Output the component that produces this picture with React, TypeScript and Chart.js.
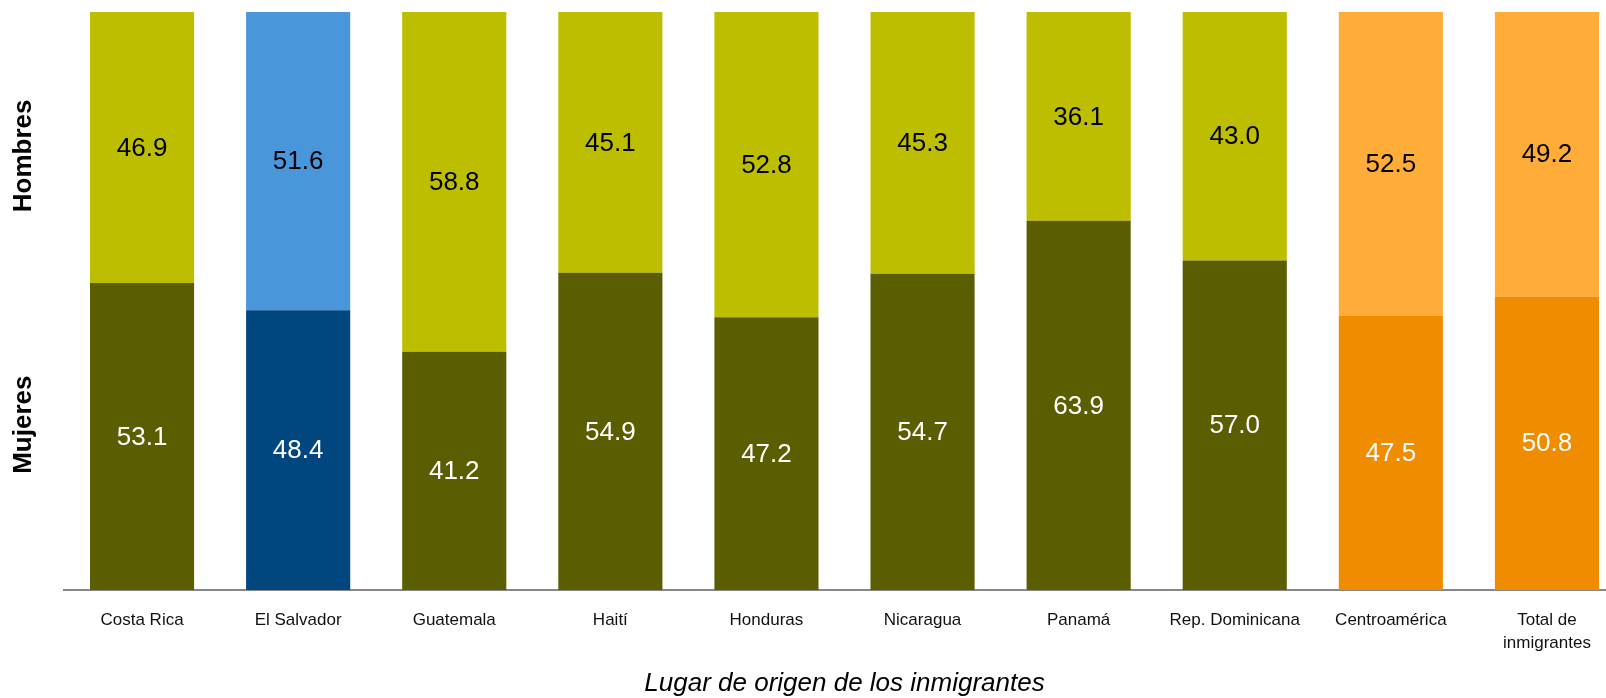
import React, { useEffect, useRef } from "react";
import { Chart, registerables } from "chart.js";

Chart.register(...registerables);

const categories: (string | string[])[] = [
  "Costa Rica",
  "El Salvador",
  "Guatemala",
  "Haití",
  "Honduras",
  "Nicaragua",
  "Panamá",
  "Rep. Dominicana",
  "Centroamérica",
  ["Total de", "inmigrantes"],
];

const mujeres = [53.1, 48.4, 41.2, 54.9, 47.2, 54.7, 63.9, 57.0, 47.5, 50.8];
const hombres = [46.9, 51.6, 58.8, 45.1, 52.8, 45.3, 36.1, 43.0, 52.5, 49.2];

const mujeresColors = [
  "#5b5e00", "#00467f", "#5b5e00", "#5b5e00", "#5b5e00",
  "#5b5e00", "#5b5e00", "#5b5e00", "#f08c00", "#f08c00",
];
const hombresColors = [
  "#bebe00", "#4a96db", "#bebe00", "#bebe00", "#bebe00",
  "#bebe00", "#bebe00", "#bebe00", "#ffac38", "#ffac38",
];

const sideLabels = ["Mujeres", "Hombres"];
const sideLabelValues = [28.6, 75.1];

const dataLabelPlugin = {
  id: "dataLabels",
  afterDatasetsDraw(chart: any) {
    const ctx = chart.ctx;
    ctx.save();
    ctx.font = "26px 'Liberation Sans', Arial, sans-serif";
    ctx.textAlign = "center";
    ctx.textBaseline = "middle";
    chart.data.datasets.forEach((ds: any, di: number) => {
      const meta = chart.getDatasetMeta(di);
      meta.data.forEach((bar: any, i: number) => {
        const v = ds.data[i];
        const y = (bar.y + bar.base) / 2;
        ctx.fillStyle = di === 0 ? "#ffffff" : "#000000";
        ctx.fillText(Number(v).toFixed(1), bar.x, y + 1);
      });
    });
    ctx.restore();
  },
};

const sideLabelPlugin = {
  id: "sideLabels",
  afterDraw(chart: any) {
    const ctx = chart.ctx;
    const yScale = chart.scales.y;
    ctx.save();
    ctx.font = "bold 26px 'Liberation Sans', Arial, sans-serif";
    ctx.fillStyle = "#000000";
    ctx.textAlign = "center";
    ctx.textBaseline = "middle";
    sideLabels.forEach((label, i) => {
      const y = yScale.getPixelForValue(sideLabelValues[i]);
      ctx.save();
      ctx.translate(24, y);
      ctx.rotate(-Math.PI / 2);
      ctx.fillText(label, 0, 0);
      ctx.restore();
    });
    ctx.restore();
  },
};

export default function App() {
  const ref = useRef<HTMLCanvasElement | null>(null);

  useEffect(() => {
    if (!ref.current) return;
    const chart = new Chart(ref.current, {
      type: "bar",
      data: {
        labels: categories as any,
        datasets: [
          {
            label: "Mujeres",
            data: mujeres,
            backgroundColor: mujeresColors,
            borderWidth: 0,
            categoryPercentage: 1,
            barPercentage: 0.667,
          },
          {
            label: "Hombres",
            data: hombres,
            backgroundColor: hombresColors,
            borderWidth: 0,
            categoryPercentage: 1,
            barPercentage: 0.667,
          },
        ],
      },
      options: {
        animation: false,
        responsive: false,
        maintainAspectRatio: false,
        layout: { padding: { left: 64, right: 15, top: 12, bottom: 0 } },
        plugins: {
          legend: { display: false },
          tooltip: { enabled: false },
        },
        scales: {
          x: {
            stacked: true,
            grid: { display: false, drawTicks: false },
            border: { display: true, color: "#888888", width: 2 },
            afterFit: (scale: any) => {
              scale.height = 108;
            },
            ticks: {
              color: "#111111",
              font: { family: "'Liberation Sans', Arial, sans-serif", size: 17, lineHeight: 1.4 },
              padding: 18,
              maxRotation: 0,
              minRotation: 0,
              autoSkip: false,
            },
            title: {
              display: true,
              text: "Lugar de origen de los inmigrantes",
              color: "#000000",
              font: { family: "'Liberation Sans', Arial, sans-serif", size: 26, style: "italic", lineHeight: 1.1 },
              padding: { top: 0, bottom: 0 },
            },
          },
          y: {
            stacked: true,
            display: false,
            min: 0,
            max: 100,
          },
        },
      },
      plugins: [dataLabelPlugin, sideLabelPlugin],
    });
    return () => chart.destroy();
  }, []);

  return (
    <div
      style={{
        position: "fixed",
        left: 0,
        top: 0,
        width: 1606,
        height: 698,
        overflow: "hidden",
        background: "#ffffff",
      }}
    >
      <canvas ref={ref} width={1640} height={698} style={{ display: "block" }} />
    </div>
  );
}
